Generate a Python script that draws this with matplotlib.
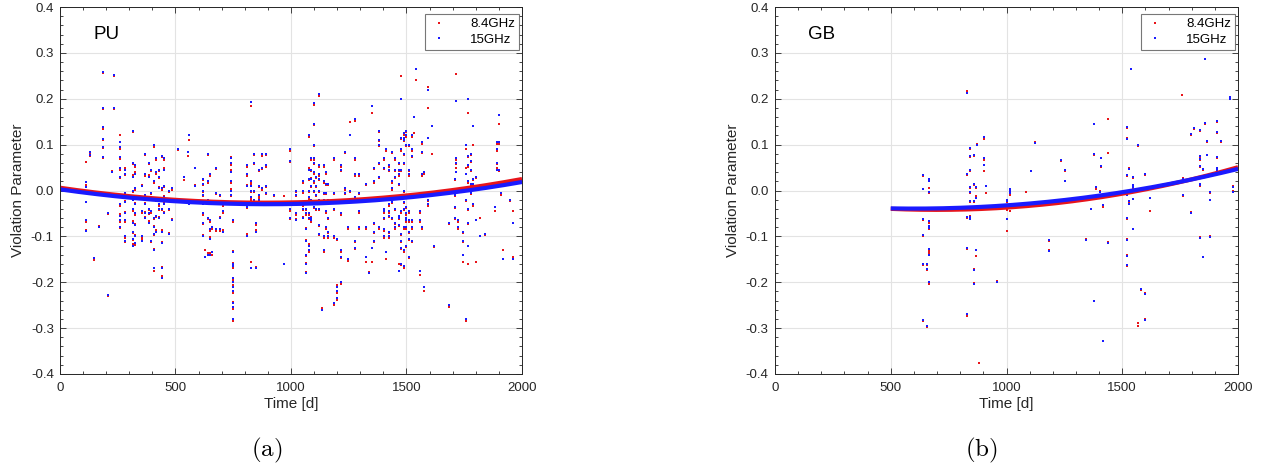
import numpy as np
import matplotlib
matplotlib.use('Agg')
import matplotlib.pyplot as plt
from matplotlib.ticker import MultipleLocator, FormatStrFormatter

plt.rcParams['font.family'] = ['Liberation Sans', 'DejaVu Sans']
plt.rcParams['mathtext.fontset'] = 'cm'

nan = np.nan

# ---- PU station: epochs [d], values per epoch (15 GHz / 8.4 GHz) ----
pu_epochs = [114, 130, 148, 168, 187, 209, 225, 235, 260, 280, 314, 326, 355, 367, 385,
             395, 406, 417, 428, 440, 450, 472, 487, 509, 538, 553, 560, 583, 618, 629,
             640, 651, 659, 674, 692, 706, 740, 750, 808, 826, 841, 848, 860, 874, 893,
             928, 969, 995, 1020, 1050, 1064, 1076, 1086, 1098, 1108, 1123, 1133, 1142,
             1152, 1162, 1186, 1200, 1218, 1232, 1247, 1254, 1276, 1294, 1323, 1338,
             1349, 1361, 1383, 1401, 1411, 1423, 1437, 1452, 1466, 1477, 1488, 1500,
             1510, 1522, 1532, 1542, 1558, 1569, 1576, 1591, 1610, 1617, 1686, 1708,
             1715, 1725, 1744, 1756, 1766, 1778, 1788, 1800, 1817, 1839, 1883, 1890,
             1900, 1908, 1918, 1949, 1963]

pu_15ghz = [
    [0.019, 0.008, -0.024, -0.065, -0.089], [0.083, 0.078], [-0.147], [-0.079],
    [0.258, 0.18, 0.138, 0.113, 0.094, 0.073], [-0.05, -0.227], [0.041], [0.251, 0.18],
    [0.105, 0.095, 0.072, 0.05, 0.03, -0.01, -0.03, -0.055, -0.065, -0.08],
    [0.045, 0.035, -0.005, -0.025, -0.05, -0.065, -0.1, -0.11],
    [0.13, 0.06, 0.03, 0.0, -0.02, -0.04, -0.07, -0.09, -0.105, -0.12],
    [0.055, 0.035, 0.005, -0.03, -0.05, -0.075, -0.1, -0.115],
    [0.01, -0.045, -0.1, -0.11], [0.08, 0.035, -0.01, -0.03, -0.05, -0.06],
    [0.06, 0.03, -0.02, -0.04, -0.05, -0.07],
    [0.045, -0.005, -0.045, -0.11], [0.1, 0.02, -0.06, -0.08, -0.095, -0.13, -0.17],
    [0.07, 0.04, -0.02, -0.055, -0.09], [0.045, 0.03, 0.005, -0.03, -0.04, -0.06],
    [0.075, 0.005, -0.02, -0.04, -0.09, -0.115, -0.17, -0.19],
    [0.07, 0.045, 0.01, -0.015, -0.03, -0.05], [0.0, -0.04, -0.095], [0.005, -0.065],
    [0.09], [0.03], [0.085], [0.12, -0.03], [0.05, 0.01],
    [0.025, 0.015, 0.0, -0.01, -0.03, -0.05, -0.07, -0.1], [-0.145],
    [0.08, 0.02, -0.02, -0.06, -0.14], [0.035, -0.065, -0.085, -0.105, -0.14],
    [-0.135, -0.08, -0.03], [0.05, -0.005, -0.085], [-0.01, -0.06, -0.085],
    [-0.03, -0.045, -0.09], [0.07, 0.06, 0.04, 0.02, 0.0, -0.01],
    [-0.065, -0.135, -0.16, -0.165, -0.19, -0.2, -0.21, -0.22, -0.245, -0.255, -0.28],
    [0.055, 0.035, 0.01, -0.03, -0.035, -0.1],
    [0.192, 0.02, 0.01, 0.0, -0.015, -0.025, -0.17], [0.08, 0.06, 0.0, -0.02, -0.03],
    [-0.07, -0.09, -0.17], [0.045, 0.01, -0.01, -0.02], [0.08, 0.05, 0.005],
    [0.08, 0.055, 0.01, -0.005],
    [-0.01], [nan, -0.16], [0.09, 0.065, -0.04, -0.06], [0.0, -0.01, -0.03, -0.05, -0.065],
    [0.02, 0.0, -0.03, -0.04, -0.06], [-0.04, -0.05, -0.085, -0.11, -0.14, -0.16, -0.18],
    [0.12, 0.045, 0.025, 0.0, -0.015, -0.05, -0.06, -0.12, -0.13],
    [0.07, 0.045, 0.025, 0.01, -0.02, -0.06, -0.065],
    [0.19, 0.145, 0.1, 0.07, 0.06, 0.04, 0.02, 0.0, -0.035], [0.03, 0.01, -0.01, -0.04],
    [0.21, 0.055, 0.035, 0.025, 0.0, -0.02, -0.04, -0.075, -0.095], [-0.26],
    [0.055, 0.02, -0.005, -0.02, -0.1, -0.13],
    [0.04, 0.015, -0.005, -0.045, -0.08], [0.015, -0.02, -0.06, -0.09, -0.1],
    [0.07, -0.005, -0.04, -0.1, -0.245], [-0.105, -0.21, -0.22, -0.235],
    [0.055, 0.045, -0.025, -0.05, -0.13, -0.145, -0.2], [0.085, 0.005, -0.005],
    [-0.08, -0.15], [0.12, 0.0], [0.155, 0.07, 0.035, -0.015, -0.11, -0.125],
    [0.035, -0.005, -0.045, -0.08], [0.015, -0.08, -0.145], [-0.18],
    [0.185, -0.125], [0.05, 0.02, -0.07, -0.09, -0.11], [0.13, 0.11, 0.1, 0.06, 0.03, -0.08],
    [0.07, 0.05, -0.04, -0.045, -0.06, -0.085, -0.1], [0.09, -0.135],
    [0.055, 0.045, -0.03, -0.045, -0.055, -0.09, -0.1], [0.085, 0.02, 0.005, -0.025, -0.06],
    [0.07, 0.045, 0.03, -0.015, -0.04, -0.07, -0.08],
    [0.06, 0.045, 0.035, 0.015, -0.055, -0.06, -0.075, -0.175],
    [0.2, 0.115, 0.09, 0.045, -0.01, -0.045, -0.095, -0.11, -0.125, -0.16],
    [0.125, 0.115, 0.11, 0.08, 0.06, 0.0, -0.025, -0.04, -0.08, -0.13, -0.165],
    [0.13, 0.12, 0.1, -0.035, -0.05, -0.06, -0.065, -0.08, -0.12],
    [0.1, 0.045, 0.035, -0.045, -0.065, -0.09, -0.105, -0.145],
    [0.12, 0.09, 0.075, -0.065, -0.08, -0.11], [0.16], [0.265],
    [-0.045, -0.065, -0.175], [0.105, 0.085, 0.035, -0.08], [0.04, -0.21],
    [0.22, 0.115, -0.02, -0.03], [0.14], [-0.12], [-0.07, -0.25],
    [0.025, 0.0, -0.01, -0.035, -0.06], [0.195, 0.07, 0.06, 0.04], [-0.065, -0.08],
    [-0.09, -0.11, -0.14], [0.1, 0.035, 0.005, -0.02, -0.28],
    [0.2, 0.075, 0.055, 0.02, -0.04, -0.07, -0.12], [0.08, 0.065, 0.045, 0.015, -0.005],
    [0.14, 0.025, 0.015, -0.03], [0.03, -0.065], [-0.1], [-0.095], [-0.035],
    [0.105, 0.09, 0.06, 0.045], [0.165, 0.105, 0.045], [-0.005], [-0.15], [-0.02],
    [-0.07, -0.15],
]

pu_84ghz = [
    [0.062, 0.011, -0.026, -0.068, -0.086], [0.081, 0.076], [-0.152], [-0.078],
    [0.256, 0.177, 0.134, 0.11, 0.092, 0.071], [-0.052, -0.229], [0.042], [0.249, 0.178],
    [0.122, 0.09, 0.068, 0.045, 0.028, -0.012, -0.034, -0.052, -0.068, -0.082],
    [0.048, 0.033, -0.008, -0.022, -0.047, -0.068, -0.103, -0.112],
    [0.127, 0.057, 0.034, -0.003, -0.018, -0.044, -0.067, -0.093, -0.108, -0.117],
    [0.052, 0.04, 0.002, -0.027, -0.053, -0.072, -0.097, -0.118],
    [0.013, -0.048, -0.103, -0.107], [0.077, 0.032, -0.013, -0.027, -0.047, -0.058],
    [0.057, 0.034, -0.017, -0.043, -0.052, -0.067],
    [0.042, -0.008, -0.048, -0.113], [0.095, 0.017, -0.063, -0.077, -0.098, -0.127, -0.175],
    [0.066, 0.037, -0.023, -0.058, -0.087], [0.042, 0.027, 0.008, -0.033, -0.043, -0.057],
    [0.072, 0.002, -0.017, -0.043, -0.087, -0.112, -0.167, -0.187],
    [0.067, 0.048, 0.007, -0.012, -0.027, -0.047], [-0.003, -0.043, -0.092], [0.002, -0.062],
    [0.088], [0.022], [0.075], [0.11, -0.027], [0.048, 0.012],
    [0.022, 0.012, -0.003, -0.013, -0.027, -0.053, -0.073, -0.097], [-0.13],
    [0.077, 0.017, -0.023, -0.063, -0.137], [0.032, -0.068, -0.088, -0.102, -0.137],
    [-0.14, -0.083, -0.027], [0.047, -0.008, -0.088], [-0.013, -0.057, -0.088],
    [-0.033, -0.048, -0.087], [0.072, 0.055, 0.045, 0.017, 0.003, -0.013],
    [-0.068, -0.132, -0.157, -0.168, -0.193, -0.197, -0.207, -0.223, -0.242, -0.258, -0.285],
    [0.052, 0.032, 0.013, -0.027, -0.038, -0.095],
    [0.185, 0.017, 0.013, -0.003, -0.018, -0.022, -0.155], [0.077, 0.057, -0.003, -0.023, -0.027],
    [-0.075, -0.087, -0.167], [0.042, 0.007, -0.013, -0.017], [0.075, 0.047, 0.002],
    [0.077, 0.052, 0.007, -0.008],
    [-0.012], [-0.012, nan], [0.087, 0.062, -0.045, -0.063],
    [-0.003, -0.013, -0.027, -0.053, -0.062],
    [0.017, -0.005, -0.033, -0.043, -0.057],
    [-0.043, -0.053, -0.082, -0.107, -0.143, -0.157, -0.177],
    [0.117, 0.048, 0.022, -0.003, -0.018, -0.053, -0.063, -0.117, -0.133],
    [0.067, 0.042, 0.028, 0.007, -0.023, -0.057, -0.068],
    [0.187, 0.142, 0.097, 0.067, 0.057, 0.037, 0.017, -0.003, -0.038],
    [0.027, 0.007, -0.013, -0.043],
    [0.207, 0.052, 0.032, 0.022, -0.003, -0.023, -0.043, -0.078, -0.098], [-0.257],
    [0.052, 0.017, -0.008, -0.023, -0.103, -0.135],
    [0.037, 0.012, -0.008, -0.048, -0.083], [0.012, -0.023, -0.063, -0.093, -0.103],
    [0.067, -0.008, -0.043, -0.103, -0.25], [-0.108, -0.207, -0.223, -0.238],
    [0.052, 0.042, -0.028, -0.053, -0.133, -0.148, -0.203], [0.082, 0.002, -0.008],
    [-0.083, -0.153], [0.15, -0.003], [0.152, 0.067, 0.032, -0.018, -0.113, -0.128],
    [0.032, -0.008, -0.048, -0.083], [0.012, -0.083, -0.155], [-0.178],
    [0.17, -0.155], [0.047, 0.017, -0.073, -0.093, -0.113],
    [0.127, 0.107, 0.097, 0.057, 0.027, -0.083],
    [0.067, 0.047, -0.043, -0.048, -0.063, -0.088, -0.103], [0.087, -0.15],
    [0.052, 0.042, -0.033, -0.048, -0.058, -0.093, -0.103],
    [0.082, 0.017, 0.002, -0.028, -0.063],
    [0.067, 0.042, 0.027, -0.018, -0.043, -0.073, -0.083],
    [0.057, 0.042, 0.032, 0.012, -0.058, -0.063, -0.078, -0.16],
    [0.25, 0.112, 0.087, 0.042, -0.013, -0.048, -0.098, -0.113, -0.128, -0.163],
    [0.122, 0.112, 0.107, 0.077, 0.057, -0.003, -0.028, -0.043, -0.083, -0.133, -0.168],
    [0.127, 0.117, 0.097, -0.038, -0.053, -0.063, -0.068, -0.083, -0.123],
    [0.097, 0.042, 0.032, -0.048, -0.068, -0.093, -0.108, -0.148],
    [0.117, 0.087, 0.072, -0.068, -0.083, -0.113], [0.125], [0.24],
    [-0.048, -0.068, -0.185], [0.102, 0.082, 0.032, -0.083], [0.037, -0.22],
    [0.225, 0.18, -0.023, -0.033], [0.08], [-0.123], [-0.073, -0.253],
    [0.022, -0.003, -0.013, -0.038, -0.063], [0.255, 0.067, 0.057, 0.05], [-0.068, -0.083],
    [-0.093, -0.113, -0.155], [0.09, 0.05, 0.002, -0.023, -0.285],
    [0.17, 0.072, 0.052, 0.017, -0.043, -0.073, -0.16], [0.077, 0.062, 0.042, 0.012, -0.008],
    [0.1, 0.022, 0.012, -0.033], [0.027, -0.155], [-0.06], [-0.097], [-0.045],
    [0.102, 0.087, 0.057, 0.05], [0.145, 0.102, 0.042], [-0.01], [-0.13], [-0.023],
    [-0.045, -0.145],
]

# ---- GB station ----
gb_epochs = [639, 658, 664, 830, 842, 858, 867, 873, 883, 902, 913, 961, 1004, 1015, 1084,
             1107, 1122, 1185, 1237, 1253, 1342, 1363, 1377, 1385, 1402, 1408, 1416, 1418,
             1437, 1520, 1531, 1539, 1547, 1567, 1581, 1597, 1618, 1759, 1762, 1799, 1810,
             1838, 1849, 1857, 1866, 1877, 1911, 1927, 1964, 1980]

gb_15ghz = [
    [0.034, 0.003, -0.063, -0.098, -0.16, -0.283], [-0.16, -0.172, -0.296],
    [0.025, 0.021, -0.003, -0.067, -0.077, -0.081, -0.128, -0.14, -0.2],
    [0.213, 0.036, -0.058, -0.125, -0.27],
    [0.045, 0.093, 0.076, 0.008, -0.003, -0.023, -0.063, -0.058],
    [0.078, 0.014, -0.023, -0.174, -0.203], [0.007, -0.017, -0.13], [0.1], [nan],
    [0.116, 0.07, 0.056], [0.01], [-0.199], [-0.023, -0.063, -0.02], [-0.006, 0.003, 0.0],
    [nan], [0.043], [0.103], [-0.108, -0.132], [0.066], [0.045, 0.021], [-0.107], [-0.04],
    [0.08, 0.146, -0.241], [0.007], [-0.003], [0.054, 0.071], [-0.329], [-0.032],
    [-0.114, nan, nan], [0.112, 0.138, 0.034, -0.01, -0.061, -0.107, -0.142, -0.163],
    [0.047, -0.023, -0.03], [0.265], [0.03, 0.012, 0.007, -0.019, -0.085],
    [0.099, nan, nan], [-0.214], [-0.225, -0.282, 0.036], [-0.017], [nan],
    [0.026, -0.01], [-0.048, 0.123], [0.136],
    [0.069, 0.132, 0.076, 0.054, 0.015, 0.012, -0.103], [0.047, -0.145], [0.148, 0.287],
    [0.108, 0.078], [-0.003, -0.021, -0.102], [0.073, 0.05, 0.044, 0.151, 0.127], [0.107],
    [0.2, 0.203], [0.008, -0.003],
]

gb_84ghz = [
    [0.031, 0.004, -0.065, -0.099, -0.162, -0.285], [-0.162, -0.174, -0.297],
    [0.023, 0.005, -0.006, -0.07, -0.08, -0.083, -0.132, -0.137, -0.204],
    [0.217, 0.033, -0.06, -0.127, -0.274],
    [0.043, 0.09, 0.073, 0.005, -0.005, -0.025, -0.06, -0.056],
    [0.076, 0.012, -0.025, -0.172, -0.201], [0.005, -0.012, -0.143], [0.102], [-0.375],
    [0.113, 0.067, 0.043], [-0.005], [-0.198], [-0.042, -0.088, -0.025], [-0.01, 0.0, -0.045],
    [-0.003], [nan], [0.105], [-0.111, -0.13], [0.064], [0.042, 0.02], [-0.106], [-0.04],
    [0.078, 0.144, -0.24], [0.004], [-0.002], [0.052, 0.07], [nan], [-0.036],
    [-0.113, 0.155, 0.082], [0.115, 0.136, 0.032, -0.008, -0.062, -0.106, -0.14, -0.165],
    [0.049, -0.026, -0.028], [nan], [0.027, 0.009, 0.005, -0.018, -0.084],
    [0.097, -0.289, -0.296], [-0.216], [-0.223, -0.28, 0.034], [-0.045], [0.208],
    [0.028, -0.012], [-0.047, 0.121], [0.135],
    [0.067, 0.13, 0.074, 0.052, 0.013, 0.01, -0.101], [0.045, nan], [0.146, nan],
    [0.106, 0.077], [-0.005, -0.02, -0.1], [0.071, 0.048, 0.046, 0.149, 0.125], [0.106],
    [0.203, 0.201], [0.01, -0.002],
]

# quadratic fits (coefficients for np.polyval, t in days)
pu_fit_84 = [4.15e-8, -7.35e-5, 0.006]
pu_fit_15 = [4.0e-8, -7.2e-5, 0.0025]
gb_fit_84 = [5.5e-8, -7.7e-5, -0.01525]
gb_fit_15 = [4.41e-8, -5.29e-5, -0.023575]

RED = '#e8141a'
BLUE = '#1a1aff'
AX_COL = '#262626'


def flatten(epochs, groups):
    t, v = [], []
    for ep, vals in zip(epochs, groups):
        for x in vals:
            t.append(ep)
            v.append(x)
    return np.array(t, float), np.array(v, float)


def draw_panel(ax, name, epochs, v84, v15, fit84, fit15, t0):
    t_r, y_r = flatten(epochs, v84)
    t_b, y_b = flatten(epochs, v15)
    ax.plot(t_r, y_r, ls='none', marker='s', ms=1.8, mew=0, color=RED, label='8.4GHz')
    ax.plot(t_b, y_b, ls='none', marker='s', ms=1.8, mew=0, color=BLUE, label='15GHz')
    tt = np.linspace(t0, 2000, 300)
    ax.plot(tt, np.polyval(fit84, tt), color=RED, lw=3.0, solid_capstyle='butt')
    ax.plot(tt, np.polyval(fit15, tt), color=BLUE, lw=3.0, solid_capstyle='butt')

    ax.set_xlim(0, 2000)
    ax.set_ylim(-0.4, 0.4)
    ax.xaxis.set_major_locator(MultipleLocator(500))
    ax.xaxis.set_minor_locator(MultipleLocator(100))
    ax.yaxis.set_major_locator(MultipleLocator(0.1))
    ax.yaxis.set_minor_locator(MultipleLocator(0.02))
    ax.yaxis.set_major_formatter(FormatStrFormatter('%.1f'))
    ax.tick_params(which='both', direction='in', top=True, right=True, colors=AX_COL,
                   labelsize=9.5, width=0.6)
    ax.tick_params(axis='x', which='major', pad=6)
    ax.tick_params(axis='y', which='major', pad=4.5)
    ax.tick_params(which='major', length=4)
    ax.tick_params(which='minor', length=2.5)
    for s in ax.spines.values():
        s.set_color(AX_COL)
        s.set_linewidth(0.7)
    ax.grid(True, which='major', color='#e3e3e3', lw=0.8)
    ax.set_axisbelow(True)
    ax.set_xlabel('Time [d]', fontsize=11, color=AX_COL, labelpad=2)
    ax.set_ylabel('Violation Parameter', fontsize=11, color=AX_COL, labelpad=4)
    ax.text(143, 0.341, name, fontsize=13.5, va='center', ha='left')
    leg = ax.legend(loc='upper right', bbox_to_anchor=(1 - 3 / 462, 1 - 7 / 367),
                    borderaxespad=0, fontsize=9.5, frameon=True, fancybox=False,
                    markerscale=1.0, handlelength=1.5, handletextpad=1.6,
                    borderpad=0.3, labelspacing=0.25)
    leg.get_frame().set_edgecolor('#555555')
    leg.get_frame().set_linewidth(0.8)


fig = plt.figure(figsize=(12.71, 4.70), dpi=100)
ax1 = fig.add_axes([60 / 1271, 96 / 470, 462 / 1271, 367 / 470])
ax2 = fig.add_axes([775 / 1271, 96 / 470, 463 / 1271, 367 / 470])

draw_panel(ax1, 'PU', pu_epochs, pu_84ghz, pu_15ghz, pu_fit_84, pu_fit_15, 0)
draw_panel(ax2, 'GB', gb_epochs, gb_84ghz, gb_15ghz, gb_fit_84, gb_fit_15, 500)

fig.text(267 / 1271, 1 - 450 / 470, r'$\mathrm{(a)}$', fontsize=18, ha='center', va='center')
fig.text(981 / 1271, 1 - 450 / 470, r'$\mathrm{(b)}$', fontsize=18, ha='center', va='center')

fig.savefig('out.png', dpi=100)
